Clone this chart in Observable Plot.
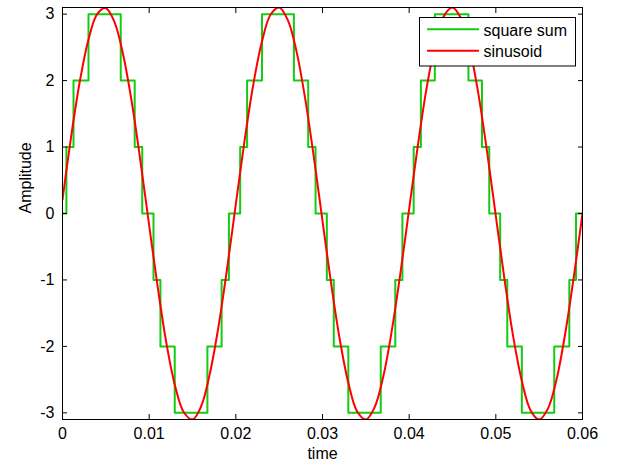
<!DOCTYPE html>
<html>
<head>
<meta charset="utf-8">
<script src="https://cdn.jsdelivr.net/npm/d3@7"></script>
<script src="https://cdn.jsdelivr.net/npm/@observablehq/plot@0.6"></script>
<style>
  body { margin: 0; background: #fff; }
  #wrap { position: relative; width: 619px; height: 464px; font-family: "Liberation Sans", Arial, sans-serif; }
  #legend { position: absolute; left: 419px; top: 17px; }
</style>
</head>
<body>
<div id="wrap"><div id="chart"></div><div id="legend"></div></div>
<script>
// ---- axis ticks ----
const xTicks = [0, 0.01, 0.02, 0.03, 0.04, 0.05, 0.06];
const xTickLabels = ["0", "0.01", "0.02", "0.03", "0.04", "0.05", "0.06"];
const yTicks = [-3, -2, -1, 0, 1, 2, 3];
const yTickLabels = ["-3", "-2", "-1", "0", "1", "2", "3"];
const xLabel = "time";
const yLabel = "Amplitude";

// ---- series: square sum (step times and levels) ----
const squareTime = [
  0, 0.00045, 0.00127, 0.00300, 0.00672, 0.00833, 0.00920, 0.01050, 0.01130, 0.01295, 0.01672, 0.01836, 0.01920,
  0.02050, 0.02130, 0.02302, 0.02670, 0.02835, 0.02920, 0.03050, 0.03130, 0.03298, 0.03672, 0.03840, 0.03922,
  0.04052, 0.04135, 0.04296, 0.04684, 0.04840, 0.04924, 0.05050, 0.05132, 0.05300, 0.05674, 0.05848, 0.05925,
  0.06
];
const squareLevel = [
  0, 1, 2, 3, 2, 1, 0, -1, -2, -3, -2, -1, 0,
  1, 2, 3, 2, 1, 0, -1, -2, -3, -2, -1, 0,
  1, 2, 3, 2, 1, 0, -1, -2, -3, -2, -1, 0,
  0
];

const sineTime = [
  0, 0.001, 0.002, 0.003, 0.004, 0.005, 0.006, 0.007, 0.008, 0.009,
  0.010, 0.011, 0.012, 0.013, 0.014, 0.015, 0.016, 0.017, 0.018, 0.019,
  0.020, 0.021, 0.022, 0.023, 0.024, 0.025, 0.026, 0.027, 0.028, 0.029,
  0.030, 0.031, 0.032, 0.033, 0.034, 0.035, 0.036, 0.037, 0.038, 0.039,
  0.040, 0.041, 0.042, 0.043, 0.044, 0.045, 0.046, 0.047, 0.048, 0.049,
  0.050, 0.051, 0.052, 0.053, 0.054, 0.055, 0.056, 0.057, 0.058, 0.059,
  0.060
];
const sineValue = [
  0.21, 1.16, 1.99, 2.62, 3.00, 3.09, 2.88, 2.39, 1.67, 0.78,
  -0.18, -1.12, -1.96, -2.60, -2.99, -3.10, -2.90, -2.41, -1.70, -0.82,
  0.14, 1.09, 1.93, 2.58, 2.99, 3.10, 2.91, 2.44, 1.73, 0.85,
  -0.11, -1.06, -1.90, -2.56, -2.98, -3.10, -2.92, -2.46, -1.76, -0.89,
  0.07, 1.02, 1.88, 2.54, 2.97, 3.10, 2.93, 2.48, 1.79, 0.92,
  -0.04, -0.99, -1.85, -2.52, -2.96, -3.10, -2.94, -2.50, -1.81, -0.95,
  0.00
];

const seriesNames = ["square sum", "sinusoid"];
const seriesColors = ["#14cc14", "#ff0000"];

const squareData = squareTime.map((t, i) => ({t, v: squareLevel[i]}));
const sineData = sineTime.map((t, i) => ({t, v: sineValue[i]}));
const fmtX = d => xTickLabels[xTicks.indexOf(d)];
const fmtY = d => yTickLabels[yTicks.indexOf(d)];
const font = {fontSize: 16, fontFamily: "Liberation Sans, Arial, sans-serif"};

const chart = Plot.plot({
  width: 619,
  height: 464,
  marginLeft: 62,
  marginRight: 37,
  marginTop: 7,
  marginBottom: 45,
  style: {background: "#fff", color: "#000", ...font},
  x: {domain: [0, 0.06], axis: null},
  y: {domain: [-3.1, 3.1], axis: null},
  marks: [
    Plot.line(squareData, {x: "t", y: "v", curve: "step-after", stroke: seriesColors[0], strokeWidth: 2, clip: true}),
    Plot.line(sineData, {x: "t", y: "v", curve: "catmull-rom", stroke: seriesColors[1], strokeWidth: 2, clip: true}),
    Plot.frame({stroke: "#000", strokeWidth: 1}),
    // inward ticks on all four sides
    Plot.axisX(xTicks, {anchor: "bottom", tickSize: -5, tickFormat: () => "", label: null}),
    Plot.axisX(xTicks, {anchor: "top", tickSize: -5, tickFormat: () => "", label: null}),
    Plot.axisY(yTicks, {anchor: "left", tickSize: -5, tickFormat: () => "", label: null}),
    Plot.axisY(yTicks, {anchor: "right", tickSize: -5, tickFormat: () => "", label: null}),
    // tick labels
    Plot.axisX(xTicks, {anchor: "bottom", tickSize: 0, tickPadding: 8, tickFormat: fmtX, label: null, ...font}),
    Plot.axisY(yTicks, {anchor: "left", tickSize: 0, tickPadding: 8, tickFormat: fmtY, label: null, ...font}),
    // axis titles
    Plot.text([xLabel], {frameAnchor: "bottom", text: d => d, lineAnchor: "bottom", dy: 39, ...font}),
    Plot.text([yLabel], {frameAnchor: "left", text: d => d, rotate: -90, lineAnchor: "middle", dx: -37, ...font})
  ]
});
document.getElementById("chart").appendChild(chart);

// legend (inside the axes box, top-right)
const ns = "http://www.w3.org/2000/svg";
const lg = document.createElementNS(ns, "svg");
lg.setAttribute("width", 157);
lg.setAttribute("height", 50);
const box = document.createElementNS(ns, "rect");
box.setAttribute("x", 0.5); box.setAttribute("y", 0.5);
box.setAttribute("width", 156); box.setAttribute("height", 48.5);
box.setAttribute("fill", "#fff"); box.setAttribute("stroke", "#000");
lg.appendChild(box);
seriesNames.forEach((name, i) => {
  const ly = i === 0 ? 12.3 : 33.7;
  const ln = document.createElementNS(ns, "line");
  ln.setAttribute("x1", 8); ln.setAttribute("x2", 60);
  ln.setAttribute("y1", ly); ln.setAttribute("y2", ly);
  ln.setAttribute("stroke", seriesColors[i]); ln.setAttribute("stroke-width", 2);
  lg.appendChild(ln);
  const tx = document.createElementNS(ns, "text");
  tx.setAttribute("x", 64.5); tx.setAttribute("y", ly + 6.3);
  tx.setAttribute("font-size", 16);
  tx.setAttribute("font-family", "Liberation Sans, Arial, sans-serif");
  tx.textContent = name;
  lg.appendChild(tx);
});
document.getElementById("legend").appendChild(lg);
</script>
</body>
</html>
